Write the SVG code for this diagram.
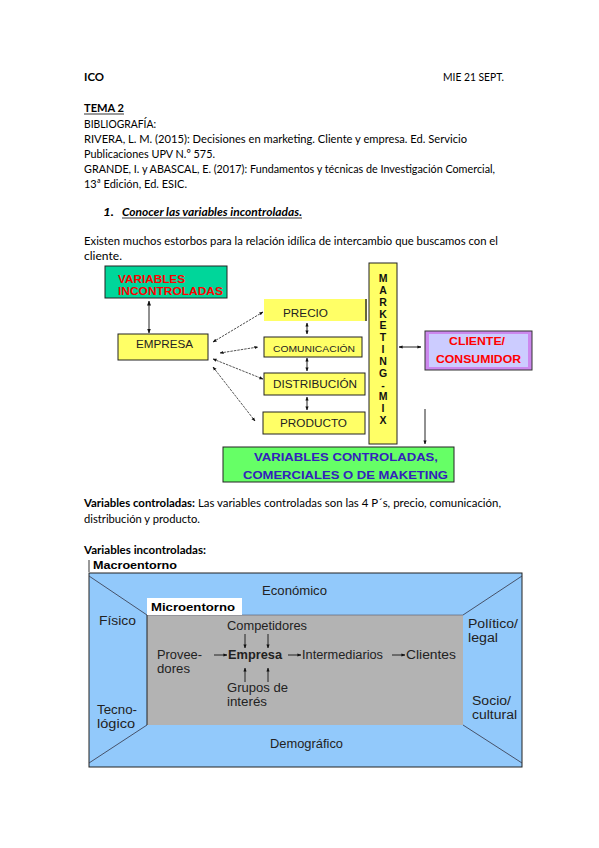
<svg xmlns="http://www.w3.org/2000/svg" width="599" height="848" viewBox="0 0 599 848">
<defs>
<style>
.t{font-family:Lato,"Liberation Sans",sans-serif;font-size:12px;fill:#000}
.b{font-weight:bold}
.a{font-family:"Liberation Sans",Arial,sans-serif}
.box{stroke:#222;stroke-width:1}
.ln{stroke:#222;stroke-width:1;fill:none}
.dl{stroke:#555;stroke-width:1;fill:none;stroke-dasharray:2.5 1}
.m{font-family:"Liberation Sans",Arial,sans-serif;font-size:12.5px;fill:#222}
</style>
<marker id="ah" viewBox="0 0 10 10" refX="9" refY="5" markerWidth="5" markerHeight="5" orient="auto-start-reverse"><path d="M0,1 L10,5 L0,9 z" fill="#111"/></marker>
<marker id="ah2" viewBox="0 0 10 10" refX="9" refY="5" markerWidth="4" markerHeight="4" orient="auto-start-reverse"><path d="M0,1 L10,5 L0,9 z" fill="#111"/></marker>
</defs>
<rect width="599" height="848" fill="#fff"/>

<g id="header">
<text class="t b" x="84" y="81" textLength="20" lengthAdjust="spacingAndGlyphs">ICO</text>
<text class="t" x="443" y="81" textLength="61" lengthAdjust="spacingAndGlyphs">MIE 21 SEPT.</text>
<text class="t b" x="84" y="112" textLength="40" lengthAdjust="spacingAndGlyphs">TEMA 2</text>
<line x1="84" y1="114" x2="124" y2="114" stroke="#000" stroke-width="0.8"/>
<text class="t" x="84" y="128" textLength="72" lengthAdjust="spacingAndGlyphs">BIBLIOGRAFÍA:</text>
<text class="t" x="84" y="143" textLength="383" lengthAdjust="spacingAndGlyphs">RIVERA, L. M. (2015): Decisiones en marketing. Cliente y empresa. Ed. Servicio</text>
<text class="t" x="84" y="158" textLength="131" lengthAdjust="spacingAndGlyphs">Publicaciones UPV N.º 575.</text>
<text class="t" x="84" y="173" textLength="411" lengthAdjust="spacingAndGlyphs">GRANDE, I. y ABASCAL, E. (2017): Fundamentos y técnicas de Investigación Comercial,</text>
<text class="t" x="84" y="188" textLength="103" lengthAdjust="spacingAndGlyphs">13ª Edición, Ed. ESIC.</text>
<text class="t b" x="103" y="216" font-style="italic" textLength="11" lengthAdjust="spacingAndGlyphs">1.</text>
<text class="t b" x="122" y="216" font-style="italic" textLength="180" lengthAdjust="spacingAndGlyphs">Conocer las variables incontroladas.</text>
<line x1="122" y1="218" x2="302" y2="218" stroke="#000" stroke-width="0.8"/>
<text class="t" x="84" y="245" textLength="414" lengthAdjust="spacingAndGlyphs">Existen muchos estorbos para la relación idílica de intercambio que buscamos con el</text>
<text class="t" x="84" y="260" textLength="38" lengthAdjust="spacingAndGlyphs">cliente.</text>
</g>

<g id="connectors1">
<line class="ln" x1="149" y1="301" x2="149" y2="333" stroke-width="1.5" marker-start="url(#ah)" marker-end="url(#ah)"/>
<line class="dl" x1="213" y1="342" x2="263" y2="312" marker-start="url(#ah2)" marker-end="url(#ah2)"/>
<line class="dl" x1="220" y1="353" x2="258" y2="347" marker-start="url(#ah2)" marker-end="url(#ah2)"/>
<line class="dl" x1="213" y1="359" x2="263" y2="379" marker-start="url(#ah2)" marker-end="url(#ah2)"/>
<line class="dl" x1="213" y1="367" x2="255" y2="421" marker-start="url(#ah2)" marker-end="url(#ah2)"/>
<line class="ln" x1="307" y1="323" x2="307" y2="334" marker-start="url(#ah2)" marker-end="url(#ah2)"/>
<line class="ln" x1="307" y1="358" x2="307" y2="371" marker-start="url(#ah2)" marker-end="url(#ah2)"/>
<line class="ln" x1="307" y1="397" x2="307" y2="410" marker-start="url(#ah2)" marker-end="url(#ah2)"/>
<line class="ln" x1="399" y1="347" x2="421" y2="347" marker-start="url(#ah2)" marker-end="url(#ah2)"/>
<line class="ln" x1="425" y1="409" x2="425" y2="444" marker-end="url(#ah2)"/>
</g>

<g id="variables-incontroladas">
<rect class="box" x="105" y="266" width="122" height="32" fill="#00D69A"/>
<text class="a b" x="118" y="283" font-size="11" fill="#FF0000" textLength="67" lengthAdjust="spacingAndGlyphs">VARIABLES</text>
<text class="a b" x="118" y="295" font-size="11" fill="#FF0000" textLength="105" lengthAdjust="spacingAndGlyphs">INCONTROLADAS</text>
</g>
<g id="empresa">
<rect class="box" x="118" y="334" width="90" height="26" fill="#FFFF66"/>
<text class="a" x="136" y="348" font-size="10.5" fill="#222" textLength="57" lengthAdjust="spacingAndGlyphs">EMPRESA</text>
</g>
<g id="precio">
<rect x="264" y="299" width="103" height="22" fill="#FFFF66"/>
<line x1="366" y1="299" x2="366" y2="321" stroke="#333" stroke-width="1.5"/>
<text class="a" x="283" y="317" font-size="10" fill="#222" textLength="45" lengthAdjust="spacingAndGlyphs">PRECIO</text>
</g>
<g id="comunicacion">
<rect class="box" x="264" y="337" width="98" height="20" fill="#FFFF66"/>
<text class="a" x="273" y="352" font-size="8.5" fill="#222" textLength="82" lengthAdjust="spacingAndGlyphs">COMUNICACIÓN</text>
</g>
<g id="distribucion">
<rect class="box" x="264" y="373" width="101" height="22" fill="#FFFF66"/>
<text class="a" x="273" y="388" font-size="10" fill="#222" textLength="84" lengthAdjust="spacingAndGlyphs">DISTRIBUCIÓN</text>
</g>
<g id="producto">
<rect class="box" x="263" y="412" width="102" height="22" fill="#FFFF66"/>
<text class="a" x="280" y="427" font-size="10" fill="#222" textLength="67" lengthAdjust="spacingAndGlyphs">PRODUCTO</text>
</g>
<g id="marketing-mix">
<rect class="box" x="369" y="263" width="28" height="181" fill="#FFFF66"/>
<g class="a b" font-size="10.5" text-anchor="middle" fill="#111">
<text x="383" y="282">M</text><text x="383" y="294">A</text><text x="383" y="306">R</text><text x="383" y="318">K</text><text x="383" y="329">E</text><text x="383" y="341">T</text><text x="383" y="353">I</text><text x="383" y="365">N</text><text x="383" y="377">G</text><text x="383" y="389">-</text><text x="383" y="400">M</text><text x="383" y="412">I</text><text x="383" y="424">X</text>
</g>
</g>
<g id="cliente">
<rect x="425" y="331" width="107" height="39" fill="#CC88EE" stroke="#333" stroke-width="1"/>
<rect x="429" y="334" width="99" height="33" fill="#CCCCFF"/>
<text class="a b" x="449" y="345" font-size="10" fill="#FF0000" textLength="56" lengthAdjust="spacingAndGlyphs">CLIENTE/</text>
<text class="a b" x="436" y="363" font-size="10" fill="#FF0000" textLength="85" lengthAdjust="spacingAndGlyphs">CONSUMIDOR</text>
</g>
<g id="variables-controladas">
<rect class="box" x="223" y="447" width="231" height="35" fill="#66FF66"/>
<text class="a b" x="254" y="461" font-size="10" fill="#3322BB" textLength="184" lengthAdjust="spacingAndGlyphs">VARIABLES CONTROLADAS,</text>
<text class="a b" x="243" y="479" font-size="10" fill="#3322BB" textLength="205" lengthAdjust="spacingAndGlyphs">COMERCIALES O DE MAKETING</text>
</g>

<g id="body2">
<text class="t" x="84" y="507" textLength="417" lengthAdjust="spacingAndGlyphs"><tspan font-weight="bold">Variables controladas:</tspan> Las variables controladas son las 4 P´s, precio, comunicación,</text>
<text class="t" x="84" y="523" textLength="116" lengthAdjust="spacingAndGlyphs">distribución y producto.</text>
<text class="t b" x="84" y="554" textLength="122" lengthAdjust="spacingAndGlyphs">Variables incontroladas:</text>
</g>

<g id="macroentorno">
<line x1="89" y1="560" x2="89" y2="572" stroke="#333" stroke-width="1"/>
<text class="a b" x="93" y="569" font-size="11" textLength="84" lengthAdjust="spacingAndGlyphs">Macroentorno</text>
<rect x="89" y="573" width="433" height="194" fill="#92C9FB" stroke="#222" stroke-width="1"/>
<line x1="89" y1="576" x2="147" y2="615" stroke="#334" stroke-width="0.8"/>
<line x1="522" y1="576" x2="463" y2="615" stroke="#334" stroke-width="0.8"/>
<line x1="89" y1="763" x2="147" y2="725" stroke="#334" stroke-width="0.8"/>
<line x1="522" y1="763" x2="463" y2="725" stroke="#334" stroke-width="0.8"/>
<text class="m" x="262" y="595" textLength="65" lengthAdjust="spacingAndGlyphs">Económico</text>
<text class="m" x="99" y="625" textLength="37" lengthAdjust="spacingAndGlyphs">Físico</text>
<text class="m" x="468" y="628" textLength="50" lengthAdjust="spacingAndGlyphs">Político/</text>
<text class="m" x="468" y="642" textLength="30" lengthAdjust="spacingAndGlyphs">legal</text>
<text class="m" x="97" y="714" textLength="40" lengthAdjust="spacingAndGlyphs">Tecno-</text>
<text class="m" x="97" y="728" textLength="38" lengthAdjust="spacingAndGlyphs">lógico</text>
<text class="m" x="472" y="705" textLength="39" lengthAdjust="spacingAndGlyphs">Socio/</text>
<text class="m" x="472" y="719" textLength="45" lengthAdjust="spacingAndGlyphs">cultural</text>
<text class="m" x="270" y="748" textLength="73" lengthAdjust="spacingAndGlyphs">Demográfico</text>
</g>
<g id="microentorno">
<rect x="147" y="615" width="316" height="110" fill="#B3B3B3"/>
<line x1="147" y1="615" x2="147" y2="725" stroke="#222" stroke-width="1"/>
<line x1="147" y1="615" x2="463" y2="615" stroke="#556" stroke-width="0.6"/>
<rect x="147" y="598" width="95" height="17" fill="#fff"/>
<text class="a b" x="151" y="611" font-size="11.5" textLength="84" lengthAdjust="spacingAndGlyphs">Microentorno</text>
<text class="m" x="227" y="630" textLength="80" lengthAdjust="spacingAndGlyphs">Competidores</text>
<text class="m" x="157" y="659" textLength="45" lengthAdjust="spacingAndGlyphs">Provee-</text>
<text class="m" x="157" y="673" textLength="33" lengthAdjust="spacingAndGlyphs">dores</text>
<text class="m" x="228" y="659" font-weight="bold" textLength="54" lengthAdjust="spacingAndGlyphs">Empresa</text>
<text class="m" x="302" y="659" textLength="81" lengthAdjust="spacingAndGlyphs">Intermediarios</text>
<text class="m" x="406" y="659" textLength="50" lengthAdjust="spacingAndGlyphs">Clientes</text>
<text class="m" x="227" y="692" textLength="61" lengthAdjust="spacingAndGlyphs">Grupos de</text>
<text class="m" x="227" y="706" textLength="40" lengthAdjust="spacingAndGlyphs">interés</text>
</g>
<g id="connectors2">
<line class="ln" x1="245" y1="634" x2="245" y2="648" stroke-width="1.3" marker-end="url(#ah2)"/>
<line class="ln" x1="268" y1="634" x2="268" y2="648" stroke-width="1.3" marker-end="url(#ah2)"/>
<line class="ln" x1="245" y1="682" x2="245" y2="668" stroke-width="1.3" marker-end="url(#ah2)"/>
<line class="ln" x1="268" y1="682" x2="268" y2="668" stroke-width="1.3" marker-end="url(#ah2)"/>
<line class="ln" x1="214" y1="655" x2="227" y2="655" stroke-width="1.3" marker-end="url(#ah2)"/>
<line class="ln" x1="288" y1="655" x2="301" y2="655" stroke-width="1.3" marker-end="url(#ah2)"/>
<line class="ln" x1="392" y1="655" x2="405" y2="655" stroke-width="1.3" marker-end="url(#ah2)"/>
</g>
</svg>
